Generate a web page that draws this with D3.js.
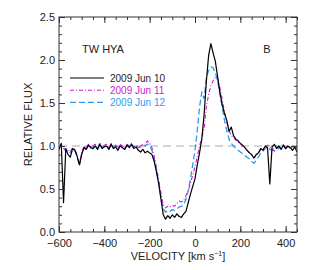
<!DOCTYPE html>
<html>
<head>
<meta charset="utf-8">
<script src="https://cdn.jsdelivr.net/npm/d3@7"></script>
<style>
  body { margin: 0; background: #fff; }
  svg { display: block; font-family: "Liberation Sans", Arial, sans-serif; }
</style>
</head>
<body>
<svg id="chart" width="315" height="270"></svg>
<script>
const velocity = [
  -600,-590,-580,-570,-560,-550,-540,-530,-520,-510,
  -500,-490,-480,-470,-460,-450,-440,-430,-420,-410,
  -400,-390,-380,-370,-360,-350,-340,-330,-320,-310,
  -300,-290,-280,-270,-260,-250,-240,-230,-220,-210,
  -200,-190,-180,-170,-160,-150,-140,-130,-120,-110,
  -100,-90,-80,-70,-60,-50,-40,-30,-20,-10,
  0,10,20,30,40,50,60,70,80,90,
  100,110,120,130,140,150,160,170,180,190,
  200,210,220,230,240,250,260,270,280,290,
  300,310,320,330,340,350,360,370,380,390,
  400,410,420,430,440,450
];

const fluxJun10 = [
  0.96,1.03,0.34,0.97,0.90,0.87,0.97,0.95,0.88,0.78,
  0.90,0.98,0.96,1.01,0.98,0.97,1.00,0.96,1.02,0.97,
  0.99,1.00,0.96,1.02,0.97,0.99,0.95,1.00,0.98,0.96,
  1.01,0.98,1.02,0.97,0.99,0.95,0.93,0.96,0.92,0.94,
  0.92,0.90,0.82,0.70,0.56,0.38,0.20,0.15,0.19,0.16,
  0.20,0.17,0.21,0.18,0.17,0.21,0.24,0.34,0.44,0.53,
  0.62,0.78,0.92,1.08,1.36,1.75,2.05,2.19,2.08,1.98,
  1.80,1.62,1.48,1.38,1.30,1.17,1.22,1.12,1.08,1.06,
  1.03,1.01,0.98,0.95,0.92,0.90,0.86,0.90,0.92,0.97,
  0.95,1.00,0.98,0.56,0.99,1.02,0.97,1.00,0.96,1.01,
  0.97,1.00,0.98,0.95,0.99,0.93
];

const fluxJun11 = [
  0.98,1.02,0.97,0.95,0.96,0.93,0.98,0.96,0.89,0.79,
  0.92,1.00,0.98,1.02,0.99,1.00,1.02,0.98,1.03,0.99,
  1.01,1.02,0.98,1.03,0.99,1.01,0.98,1.02,1.00,0.98,
  1.02,1.00,1.03,0.99,1.01,0.99,1.00,1.02,1.01,1.06,
  1.03,0.98,0.88,0.75,0.60,0.45,0.32,0.28,0.30,0.29,
  0.31,0.30,0.33,0.36,0.35,0.37,0.42,0.48,0.57,0.66,
  0.76,0.88,1.00,1.10,1.20,1.45,1.60,1.70,1.76,1.80,
  1.78,1.68,1.54,1.40,1.28,1.18,1.12,1.10,1.07,1.05,
  1.03,1.00,0.98,0.95,0.92,0.89,0.86,0.89,0.92,0.96,
  0.97,0.99,1.01,0.98,0.96,0.94,0.98,1.00,0.97,1.00,
  0.98,1.00,0.97,0.99,1.00,0.98
];

const fluxJun12 = [
  0.97,1.02,0.98,0.94,0.95,0.92,0.98,0.95,0.88,0.77,
  0.91,0.99,0.97,1.01,0.98,0.99,1.01,0.97,1.02,0.98,
  1.00,1.01,0.97,1.02,0.98,1.00,0.97,1.01,0.99,0.97,
  1.01,0.99,1.02,0.98,1.00,0.98,0.99,1.01,1.00,1.02,
  1.00,0.95,0.85,0.72,0.56,0.40,0.27,0.23,0.25,0.24,
  0.26,0.25,0.27,0.29,0.30,0.32,0.38,0.48,0.62,0.78,
  0.95,1.18,1.45,1.63,1.55,1.78,1.88,1.92,1.91,1.85,
  1.75,1.60,1.45,1.30,1.18,1.08,1.03,1.00,0.97,0.95,
  0.93,0.91,0.89,0.87,0.85,0.82,0.80,0.83,0.87,0.92,
  0.94,0.97,0.99,0.96,0.95,0.98,1.00,0.97,0.99,1.01,
  0.97,1.00,0.98,1.00,0.99,0.97
];

const seriesNames = ["2009 Jun 10", "2009 Jun 11", "2009 Jun 12"];
const xTicks = [-600, -400, -200, 0, 200, 400];
const yTicks = [0.0, 0.5, 1.0, 1.5, 2.0, 2.5];

const svg = d3.select("#chart");
const width = 315, height = 270;
const m = { top: 17, right: 18, bottom: 38, left: 59 };

const x = d3.scaleLinear().domain([-600, 450]).range([m.left, width - m.right]);
const y = d3.scaleLinear().domain([0, 2.5]).range([height - m.bottom, m.top]);

const styles = [
  { color: "#000000", dash: null, w: 1.2 },
  { color: "#c81ec8", dash: "4 2 1 2", w: 1.1 },
  { color: "#2a9af5", dash: "6 3", w: 1.3 }
];
const fluxes = [fluxJun10, fluxJun11, fluxJun12];

// continuum reference
svg.append("line")
  .attr("x1", x(-600)).attr("x2", x(450))
  .attr("y1", y(1)).attr("y2", y(1))
  .attr("stroke", "#c8c8c8")
  .attr("stroke-width", 1.5)
  .attr("stroke-dasharray", "8 5");

const line = d3.line()
  .x((d, i) => x(velocity[i]))
  .y(d => y(d));

const plot = svg.append("g");
plot.append("defs").append("clipPath").attr("id", "clip")
  .append("rect")
  .attr("x", m.left).attr("y", m.top)
  .attr("width", width - m.left - m.right)
  .attr("height", height - m.top - m.bottom);

[2, 1, 0].forEach(k => {
  plot.append("path")
    .datum(fluxes[k])
    .attr("clip-path", "url(#clip)")
    .attr("fill", "none")
    .attr("stroke", styles[k].color)
    .attr("stroke-width", styles[k].w)
    .attr("stroke-dasharray", styles[k].dash)
    .attr("stroke-linejoin", "round")
    .attr("d", line);
});

// axes with inward ticks on all sides
const axisColor = "#333";
function styleAxis(g){
  g.select(".domain").remove();
  g.selectAll("line").attr("stroke", axisColor);
  g.selectAll("text").attr("fill", "#222").attr("font-size", "11px");
}
const xMinor = d3.range(-600, 451, 50);
const yMinor = d3.range(0, 2.51, 0.1);
const bottomY = height - m.bottom;

svg.append("g").attr("transform", `translate(0,${bottomY})`)
  .call(d3.axisBottom(x).tickValues(xMinor).tickSize(-3).tickFormat(""))
  .call(styleAxis);
svg.append("g").attr("transform", `translate(0,${bottomY})`)
  .call(d3.axisBottom(x).tickValues(xTicks).tickSize(-6).tickPadding(7)
    .tickFormat(d => d3.format("d")(d).replace("-", "\u2212")))
  .call(styleAxis);
svg.append("g").attr("transform", `translate(0,${m.top})`)
  .call(d3.axisTop(x).tickValues(xMinor).tickSize(-3).tickFormat(""))
  .call(styleAxis);
svg.append("g").attr("transform", `translate(0,${m.top})`)
  .call(d3.axisTop(x).tickValues(xTicks).tickSize(-6).tickFormat(""))
  .call(styleAxis);

svg.append("g").attr("transform", `translate(${m.left},0)`)
  .call(d3.axisLeft(y).tickValues(yMinor).tickSize(-3).tickFormat(""))
  .call(styleAxis);
svg.append("g").attr("transform", `translate(${m.left},0)`)
  .call(d3.axisLeft(y).tickValues(yTicks).tickSize(-6).tickPadding(4).tickFormat(d3.format(".1f")))
  .call(styleAxis);
svg.append("g").attr("transform", `translate(${width - m.right},0)`)
  .call(d3.axisRight(y).tickValues(yMinor).tickSize(-3).tickFormat(""))
  .call(styleAxis);
svg.append("g").attr("transform", `translate(${width - m.right},0)`)
  .call(d3.axisRight(y).tickValues(yTicks).tickSize(-6).tickFormat(""))
  .call(styleAxis);

svg.append("rect")
  .attr("x", m.left).attr("y", m.top)
  .attr("width", width - m.left - m.right)
  .attr("height", height - m.top - m.bottom)
  .attr("fill", "none")
  .attr("stroke", axisColor)
  .attr("stroke-width", 1);

// titles
const xt = svg.append("text")
  .attr("x", (m.left + width - m.right) / 2)
  .attr("y", 260)
  .attr("text-anchor", "middle")
  .attr("font-size", "11px")
  .attr("fill", "#222");
xt.append("tspan").text("VELOCITY [km s");
xt.append("tspan").attr("dy", -4).attr("font-size", "7px").text("\u22121");
xt.append("tspan").attr("dy", 4).text("]");

svg.append("text")
  .attr("transform", `translate(32,${(m.top + height - m.bottom) / 2}) rotate(-90)`)
  .attr("text-anchor", "middle")
  .attr("font-size", "11px")
  .attr("fill", "#222")
  .text("RELATIVE FLUX");

svg.append("text")
  .attr("x", 82).attr("y", 53)
  .attr("font-size", "11px")
  .attr("fill", "#222")
  .text("TW HYA");

svg.append("text")
  .attr("x", 267).attr("y", 53)
  .attr("text-anchor", "middle")
  .attr("font-size", "11px")
  .attr("fill", "#222")
  .text("B");

// legend
seriesNames.forEach((name, k) => {
  const ly = 78 + k * 12.2;
  svg.append("line")
    .attr("x1", 70).attr("x2", 104)
    .attr("y1", ly).attr("y2", ly)
    .attr("stroke", styles[k].color)
    .attr("stroke-width", styles[k].w)
    .attr("stroke-dasharray", styles[k].dash);
  svg.append("text")
    .attr("x", 110).attr("y", ly + 3.5)
    .attr("font-size", "10px")
    .attr("fill", k === 0 ? "#222" : styles[k].color)
    .text(name);
});
</script>
</body>
</html>
